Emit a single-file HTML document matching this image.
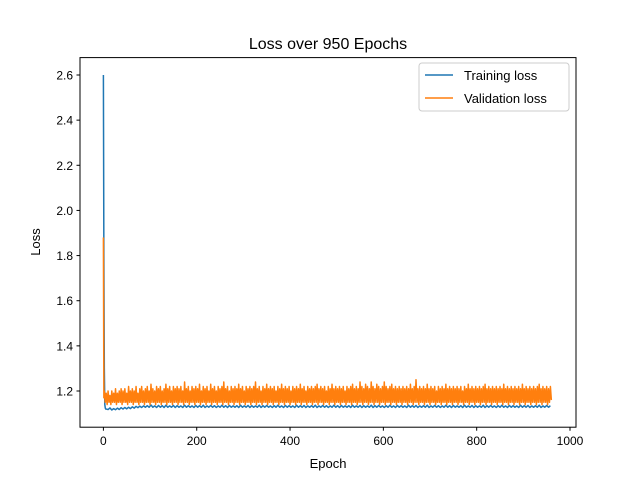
<!DOCTYPE html>
<html><head><meta charset="utf-8"><style>
html,body{margin:0;padding:0;background:#fff;}
svg text{font-family:"Liberation Sans","DejaVu Sans",sans-serif;}
</style></head><body>
<svg id="chart" width="640" height="480" xmlns="http://www.w3.org/2000/svg">
<rect width="640" height="480" fill="#fff"/>
<text x="328" y="49" font-size="16" text-anchor="middle">Loss over 950 Epochs</text>
<g id="plot"></g>
<g id="axes"></g>
<text x="328" y="468" font-size="13" text-anchor="middle">Epoch</text>
<text x="0" y="0" font-size="13" text-anchor="middle" transform="translate(40,242) rotate(-90)">Loss</text>
<g>
<rect x="419" y="63" width="150" height="48" rx="3" fill="#fff" fill-opacity="0.8" stroke="#ccc"/>
<g>
<line x1="425" y1="75" x2="453" y2="75" stroke="#1f77b4" stroke-width="1.5"/>
<text x="464" y="80" font-size="13">Training loss</text></g>
<g>
<line x1="425" y1="98" x2="453" y2="98" stroke="#ff7f0e" stroke-width="1.5"/>
<text x="464" y="103" font-size="13">Validation loss</text></g>
</g>
</svg>
<script>
const xTicks=[0,200,400,600,800,1000];
const yTicks=[1.2,1.4,1.6,1.8,2.0,2.2,2.4,2.6];
const trainHead=[2.60,1.80,1.30,1.14,1.125,1.12];
const trainStep=4;
const trainLoss=[1.12,1.118,1.125,1.116,1.122,1.117,1.124,1.118,1.126,1.12,1.127,1.121,1.128,1.122,1.13,1.124,1.132,1.126,1.133,1.127,1.134,1.128,1.135,1.128,1.138,1.128,1.134,1.127,1.136,1.128,1.135,1.127,1.137,1.128,1.134,1.128,1.136,1.127,1.135,1.128,1.134,1.127,1.137,1.128,1.135,1.128,1.134,1.127,1.136,1.128,1.135,1.128,1.137,1.127,1.134,1.128,1.136,1.128,1.135,1.127,1.134,1.128,1.137,1.128,1.135,1.127,1.136,1.128,1.134,1.128,1.135,1.127,1.137,1.128,1.134,1.128,1.136,1.127,1.135,1.128,1.134,1.128,1.137,1.127,1.135,1.128,1.136,1.128,1.134,1.127,1.135,1.128,1.137,1.128,1.134,1.127,1.136,1.128,1.135,1.128,1.134,1.127,1.137,1.128,1.135,1.128,1.136,1.127,1.134,1.128,1.135,1.128,1.137,1.127,1.134,1.128,1.136,1.128,1.135,1.127,1.134,1.128,1.137,1.128,1.135,1.127,1.136,1.128,1.134,1.128,1.135,1.127,1.137,1.128,1.134,1.128,1.136,1.127,1.135,1.128,1.134,1.128,1.137,1.127,1.135,1.128,1.136,1.128,1.134,1.127,1.135,1.128,1.137,1.128,1.134,1.127,1.136,1.128,1.135,1.128,1.134,1.127,1.137,1.128,1.135,1.128,1.136,1.127,1.134,1.128,1.135,1.128,1.137,1.127,1.134,1.128,1.136,1.128,1.135,1.127,1.134,1.128,1.137,1.128,1.135,1.127,1.136,1.128,1.134,1.128,1.135,1.127,1.137,1.128,1.134,1.128,1.136,1.127,1.135,1.128,1.134,1.128,1.137,1.127,1.135,1.128,1.136,1.128,1.134,1.127,1.135,1.128,1.137,1.128,1.134,1.127,1.136,1.128,1.135,1.128,1.134,1.127,1.137,1.128,1.135,1.128,1.136,1.127,1.134,1.128,1.135,1.128,1.137,1.127,1.134,1.128,1.136,1.128,1.135];
const valHead=[1.88,1.17];
const valStep=2;
const valLoss=[
1.20,1.15,1.19,1.14,1.20,1.15,1.18,1.14,1.20,1.15,1.19,1.15,1.21,1.14,1.19,1.15,1.20,1.15,1.21,1.14,
1.20,1.15,1.21,1.15,1.19,1.14,1.22,1.15,1.20,1.15,1.21,1.14,1.20,1.15,1.22,1.15,1.19,1.14,1.21,1.15,
1.22,1.15,1.20,1.14,1.21,1.15,1.22,1.15,1.20,1.14,1.23,1.15,1.21,1.15,1.20,1.14,1.22,1.15,1.21,1.15,
1.22,1.14,1.20,1.15,1.21,1.15,1.23,1.14,1.21,1.15,1.22,1.15,1.20,1.14,1.22,1.15,1.21,1.15,1.22,1.14,
1.21,1.15,1.22,1.15,1.20,1.14,1.24,1.15,1.21,1.15,1.22,1.14,1.20,1.15,1.22,1.15,1.21,1.14,1.22,1.15,
1.21,1.15,1.23,1.14,1.20,1.15,1.22,1.15,1.21,1.14,1.22,1.15,1.20,1.15,1.23,1.14,1.21,1.15,1.22,1.15,
1.20,1.14,1.22,1.15,1.21,1.15,1.22,1.14,1.24,1.15,1.21,1.15,1.22,1.14,1.20,1.15,1.22,1.15,1.21,1.14,
1.22,1.15,1.21,1.15,1.23,1.14,1.21,1.15,1.22,1.15,1.20,1.14,1.22,1.15,1.21,1.15,1.22,1.14,1.21,1.15,
1.22,1.15,1.24,1.14,1.21,1.15,1.22,1.15,1.20,1.14,1.22,1.15,1.21,1.15,1.23,1.14,1.21,1.15,1.22,1.15,
1.21,1.14,1.22,1.15,1.20,1.15,1.22,1.14,1.21,1.15,1.23,1.15,1.21,1.14,1.22,1.15,1.21,1.15,1.22,1.14,
1.20,1.15,1.22,1.15,1.21,1.14,1.22,1.15,1.21,1.15,1.23,1.14,1.21,1.15,1.22,1.15,1.20,1.14,1.22,1.15,
1.21,1.15,1.22,1.14,1.21,1.15,1.22,1.15,1.23,1.14,1.21,1.15,1.22,1.15,1.21,1.14,1.22,1.15,1.20,1.15,
1.22,1.14,1.21,1.15,1.23,1.15,1.21,1.14,1.22,1.15,1.21,1.15,1.22,1.14,1.21,1.15,1.22,1.15,1.20,1.14,
1.22,1.15,1.21,1.15,1.22,1.14,1.23,1.15,1.21,1.15,1.22,1.14,1.21,1.15,1.24,1.15,1.22,1.14,1.21,1.15,
1.23,1.15,1.22,1.14,1.21,1.15,1.24,1.15,1.22,1.14,1.21,1.15,1.23,1.15,1.22,1.14,1.21,1.15,1.22,1.15,
1.24,1.14,1.22,1.15,1.21,1.15,1.22,1.14,1.23,1.15,1.21,1.15,1.22,1.14,1.21,1.15,1.22,1.15,1.21,1.14,
1.22,1.15,1.21,1.15,1.22,1.14,1.21,1.15,1.23,1.15,1.21,1.14,1.22,1.15,1.25,1.15,1.21,1.14,1.22,1.15,
1.21,1.15,1.22,1.14,1.21,1.15,1.23,1.15,1.21,1.14,1.22,1.15,1.21,1.15,1.22,1.14,1.20,1.15,1.22,1.15,
1.21,1.14,1.22,1.15,1.21,1.15,1.23,1.14,1.21,1.15,1.22,1.15,1.21,1.14,1.22,1.15,1.21,1.15,1.22,1.14,
1.21,1.15,1.22,1.15,1.20,1.14,1.22,1.15,1.21,1.15,1.23,1.14,1.21,1.15,1.22,1.15,1.21,1.14,1.22,1.15,
1.21,1.15,1.22,1.14,1.21,1.15,1.22,1.15,1.23,1.14,1.21,1.15,1.22,1.15,1.21,1.14,1.22,1.15,1.21,1.15,
1.22,1.14,1.21,1.15,1.22,1.15,1.21,1.14,1.23,1.15,1.21,1.15,1.22,1.14,1.21,1.15,1.22,1.15,1.21,1.14,
1.22,1.15,1.21,1.15,1.22,1.14,1.21,1.15,1.23,1.15,1.21,1.14,1.22,1.15,1.21,1.15,1.22,1.14,1.21,1.15,
1.22,1.15,1.21,1.14,1.22,1.15,1.23,1.15,1.21,1.14,1.22,1.15,1.21,1.15,1.22,1.14,1.21,1.15,1.22,1.16];
const NS='http://www.w3.org/2000/svg';
function xs(v){return 103.4+v*(570-103.4)/1000;}
function ys(v){return 391-(v-1.2)*(391-75)/1.4;}
const plot=document.getElementById('plot'),axes=document.getElementById('axes');
function mk(tag,attrs,parent){const e=document.createElementNS(NS,tag);for(const k in attrs)e.setAttribute(k,attrs[k]);parent.appendChild(e);return e;}
let d='';
trainHead.forEach((v,i)=>{d+=(i?'L':'M')+xs(i).toFixed(2)+','+ys(v).toFixed(2);});
trainLoss.forEach((v,i)=>{d+='L'+xs(trainHead.length+i*trainStep).toFixed(2)+','+ys(v).toFixed(2);});
const tl=mk('path',{d:d,fill:'none',stroke:'#1f77b4','stroke-width':1.5,'stroke-linejoin':'round'},plot);


d='';
valHead.forEach((v,i)=>{d+=(i?'L':'M')+xs(i).toFixed(2)+','+ys(v).toFixed(2);});
valLoss.forEach((v,i)=>{d+='L'+xs(valHead.length+i*valStep).toFixed(2)+','+ys(v).toFixed(2);});
const vl=mk('path',{d:d,fill:'none',stroke:'#ff7f0e','stroke-width':1.5,'stroke-linejoin':'round'},plot);


mk('rect',{x:80,y:57.6,width:496,height:369.6,fill:'none',stroke:'#000','stroke-width':1},axes);
xTicks.forEach(t=>{const x=xs(t);mk('line',{x1:x,y1:427.2,x2:x,y2:430.7,stroke:'#000'},axes);
const tx=mk('text',{x:x,y:445,'font-size':12,'text-anchor':'middle'},axes);tx.textContent=t;

});
yTicks.forEach(t=>{const y=ys(t);mk('line',{x1:76.5,y1:y,x2:80,y2:y,stroke:'#000'},axes);
const tx=mk('text',{x:73,y:y+4.5,'font-size':12,'text-anchor':'end'},axes);tx.textContent=t.toFixed(1);

});
</script>
</body></html>
